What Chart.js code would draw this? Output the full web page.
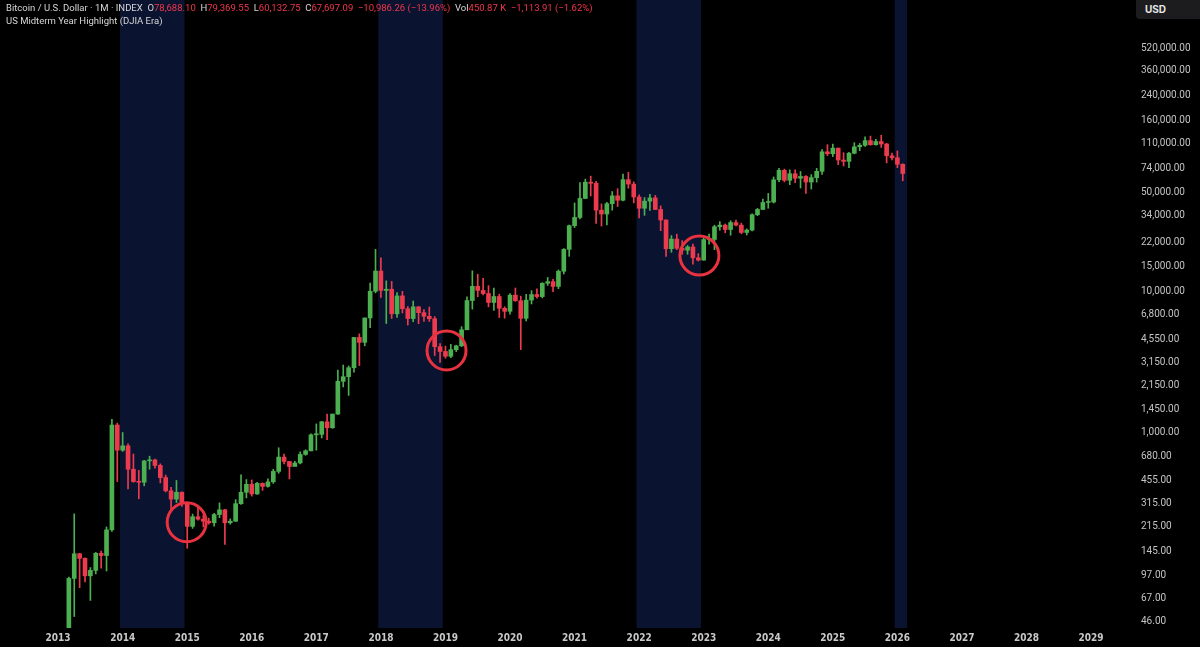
<!DOCTYPE html>
<html>
<head>
<meta charset="utf-8">
<script src="https://cdn.jsdelivr.net/npm/chart.js@4.4.1/dist/chart.umd.min.js"></script>
<style>
  html, body { margin: 0; padding: 0; background: #000; }
  #wrap { position: relative; width: 1200px; height: 647px; background: #000; overflow: hidden; }
  canvas { position: absolute; left: 0; top: 0; }
  .hdr { position: absolute; left: 6px; font-family: Roboto, Inter, sans-serif; font-size: 9.5px; color: #d6d6d6; white-space: nowrap; letter-spacing: 0; }
  .r { color: #f0364a; }
  #usd { position: absolute; left: 1136px; top: 0; width: 64px; height: 19px; background: #1c1c1e; border-bottom-left-radius: 4px;
         font-family: Inter, sans-serif; font-weight: 700; font-size: 10px; color: #e6e6e6; line-height: 19px; padding-left: 9px; box-sizing: border-box; }
</style>
</head>
<body>
<div id="wrap">
  <canvas id="c" width="1200" height="647"></canvas>
  <div class="hdr" style="top:2px">Bitcoin / U.S. Dollar · 1M · INDEX&nbsp; O<span class="r">78,688.10</span>&nbsp; H<span class="r">79,369.55</span>&nbsp; L<span class="r">60,132.75</span>&nbsp; C<span class="r">67,697.09</span>&nbsp; <span class="r">−10,986.26 (−13.96%)</span>&nbsp; Vol<span class="r">450.87 K</span>&nbsp; <span class="r">−1,113.91 (−1.62%)</span></div>
  <div class="hdr" style="top:15px">US Midterm Year Highlight (DJIA Era)</div>
  <div id="usd">USD</div>
</div>
<script>
// Monthly candles, Jan 2013 .. Feb 2026 (month index 0 = Jan 2013)
const opens = [
  13.5,20.4,33.4,93,139,129,97,106,140,135,205,1130,
  750,805,550,450,445,630,640,585,480,387,338,378,
  320,217,254,244,236,230,263,284,230,236,314,378,
  430,368,437,416,448,531,670,624,575,609,700,742,
  963,970,1190,1080,1350,2300,2480,2870,4700,4340,6450,9950,
  13850,10100,10300,6900,9240,7500,6390,7730,7030,6625,6370,4040,
  3740,3460,3850,4100,5320,8570,10800,10100,9600,8300,9150,7550,
  7190,9350,8540,6410,8630,9450,9140,11350,11650,10780,13800,19700,
  28990,33140,45140,58800,57750,37300,35040,41460,47100,43830,61300,57000,
  46200,38480,43190,45540,37700,31800,19900,23300,20050,19430,20500,17170,
  16550,23130,23150,28480,29250,27220,30480,29230,25940,26970,34650,37720,
  42280,42580,61130,71300,60650,67500,62700,64600,58970,63330,70200,96400,
  93430,102400,84350,82550,94200,104600,107100,115700,108200,114000,109500,90400,
  87500,78688.10
];
const highs = [
  20.7,33.4,95,266,140,130,111,142,145,215,1240,1165,
  1000,830,705,540,635,680,650,600,500,410,458,380,
  320,265,300,260,248,268,318,286,245,335,502,465,
  462,445,440,470,550,780,705,625,625,730,755,980,
  1150,1200,1350,1350,2760,3000,2950,4700,4980,6450,11400,19700,
  17200,11800,11700,9750,9950,7780,8500,7770,7400,7700,6600,4250,
  4080,4200,4140,5600,9100,13900,13150,12300,10920,10500,9500,7750,
  9580,10500,9200,9470,10070,10380,11450,12470,12080,14100,19950,29300,
  41950,58350,61800,64900,59600,41300,42400,50500,52900,67000,69000,59100,
  47900,45800,48200,47400,40000,31900,24650,25200,22700,21000,21450,18400,
  23900,25250,29200,31000,29800,31400,31800,30200,27500,35200,38400,44700,
  48970,64000,73800,72800,71900,72000,70000,65600,66500,73600,99800,108300,
  109300,102500,95000,95800,111900,110500,123200,124500,117900,126200,110600,94600,
  97900,79369.55
];
const lows = [
  13.3,19.1,32.5,50,80,88,65,100,110,105,200,450,
  735,400,445,340,420,550,560,440,380,275,320,300,
  152,210,240,215,225,218,250,162,225,235,310,345,
  355,365,390,410,437,515,600,470,590,600,690,740,
  750,915,890,1070,1340,2100,1830,2670,2970,4100,5500,9700,
  9000,5900,6400,6500,7000,5750,6070,5880,6100,6100,3500,3130,
  3350,3380,3730,4050,5330,7450,9100,9400,7730,7300,6500,6430,
  6870,8450,3850,6150,8100,8900,8950,10950,9880,10400,13200,17600,
  28100,32300,45000,47000,30000,28800,29300,37300,39600,43300,53300,42000,
  32900,34300,37200,37700,26700,17600,18800,19600,18200,18200,15500,16300,
  16500,21400,19600,26900,25800,24800,28900,25400,24900,26600,34100,37600,
  38500,41900,59300,59100,56500,58400,53500,49000,52600,58900,66800,90500,
  89200,78200,76600,74400,93400,98200,105300,107300,107300,103500,80500,84400,
  74500,60132.75
];
const closes = [
  20.4,33.4,93,139,129,97,106,140,135,205,1130,750,
  805,550,450,445,630,640,585,480,387,338,378,320,
  217,254,244,236,230,263,284,230,236,314,378,430,
  368,437,416,448,531,670,624,575,609,700,742,963,
  970,1190,1080,1350,2300,2480,2870,4700,4340,6450,9950,13850,
  10100,10300,6900,9240,7500,6390,7730,7030,6625,6370,4040,3740,
  3460,3850,4100,5320,8570,10800,10100,9600,8300,9150,7550,7190,
  9350,8540,6410,8630,9450,9140,11350,11650,10780,13800,19700,28990,
  33140,45140,58800,57750,37300,35040,41460,47100,43830,61300,57000,46200,
  38480,43190,45540,37700,31800,19900,23300,20050,19430,20500,17170,16550,
  23130,23150,28480,29250,27220,30480,29230,25940,26970,34650,37720,42280,
  42580,61130,71300,60650,67500,62700,64600,58970,63330,70200,96400,93430,
  102400,84350,82550,94200,104600,107100,115700,108200,114000,109500,90400,87500,
  78688.10,67697.09
];

// Year ticks (month index of January) and labels
const yearLabels = ["2013","2014","2015","2016","2017","2018","2019","2020","2021","2022","2023","2024","2025","2026","2027","2028","2029"];
const yearMonths = yearLabels.map((_, i) => i * 12);

// Price axis tick values
const priceTicks = [520000,360000,240000,160000,110000,74000,50000,34000,22000,15000,10000,6800,4550,3150,2150,1450,1000,680,455,315,215,145,97,67,46];

// US midterm-year highlight bands (month index start/end)
const bandStarts = [11.5, 59.5, 107.5, 155.5];
const bandEnds   = [23.5, 71.5, 119.5, 157.8];

// Red circle markers (month index, price)
const circleMonths = [23.9, 72.2, 119.2];
const circlePrices = [232, 3800, 17800];

const UP = '#4caf50', DOWN = '#ec3b4f';
const idx = closes.map((_, i) => i);
const colors = idx.map(i => closes[i] >= opens[i] ? UP : DOWN);

const wickData = idx.map(i => ({ x: i, y: [lows[i], highs[i]] }));
const bodyData = idx.map(i => ({ x: i, y: [Math.min(opens[i], closes[i]), Math.max(opens[i], closes[i])] }));
const circleData = circleMonths.map((m, i) => ({ x: m, y: circlePrices[i] }));

const PX_PER_MONTH = 5.38, X0 = 58.1, AREA_RIGHT = 1128;

function noPad(scale) {
  scale.paddingLeft = 0; scale.paddingRight = 0; scale.paddingTop = 0; scale.paddingBottom = 0;
}

const bandPlugin = {
  id: 'bands',
  beforeDatasetsDraw(chart) {
    const { ctx, chartArea, scales } = chart;
    ctx.save();
    ctx.fillStyle = '#0a1330';
    bandStarts.forEach((s, i) => {
      const x1 = scales.x.getPixelForValue(s);
      const x2 = scales.x.getPixelForValue(bandEnds[i]);
      ctx.fillRect(x1, chartArea.top, x2 - x1, chartArea.bottom - chartArea.top);
    });
    ctx.restore();
  }
};

Chart.defaults.font.family = 'Inter, "Open Sans", sans-serif';

new Chart(document.getElementById('c'), {
  type: 'bar',
  data: {
    datasets: [
      { type: 'scatter', data: circleData, pointRadius: 19.5, pointHoverRadius: 19.5, pointStyle: 'circle',
        borderColor: '#e8323f', borderWidth: 3, backgroundColor: 'rgba(0,0,0,0)', order: -1 },
      { data: bodyData, backgroundColor: colors, borderWidth: 0, barThickness: 4, grouped: false, minBarLength: 1, order: 0 },
      { data: wickData, backgroundColor: colors, borderWidth: 0, barThickness: 1, grouped: false, order: 1 }
    ]
  },
  options: {
    responsive: false,
    devicePixelRatio: 1,
    animation: false,
    events: [],
    layout: { padding: 0, autoPadding: false },
    plugins: { legend: { display: false }, tooltip: { enabled: false } },
    scales: {
      x: {
        type: 'linear',
        offset: false,
        min: -X0 / PX_PER_MONTH,
        max: (AREA_RIGHT - X0) / PX_PER_MONTH,
        grid: { display: false, drawTicks: false },
        border: { display: false },
        afterBuildTicks(scale) { scale.ticks = yearMonths.map(v => ({ value: v })); },
        afterFit(scale) { scale.height = 19; noPad(scale); },
        ticks: {
          autoSkip: false, maxRotation: 0, padding: 4,
          color: '#c9c9c9',
          font: { family: '"DejaVu Sans Condensed", "DejaVu Sans", sans-serif', size: 10, weight: 'bold' },
          callback(value) { const k = yearMonths.indexOf(value); return k >= 0 ? yearLabels[k] : ''; }
        }
      },
      y: {
        type: 'logarithmic',
        position: 'right',
        min: 41.5,
        max: 1141000,
        grid: { display: false, drawTicks: false },
        border: { display: false },
        afterBuildTicks(scale) { scale.ticks = priceTicks.map(v => ({ value: v })); },
        afterFit(scale) { scale.width = 1200 - AREA_RIGHT; noPad(scale); },
        ticks: {
          autoSkip: false, padding: 13,
          color: '#c4c4c4',
          font: { family: 'Roboto, Inter, sans-serif', size: 10 },
          callback(value) { return Number(value).toLocaleString('en-US', { minimumFractionDigits: 2, maximumFractionDigits: 2 }); }
        }
      }
    }
  },
  plugins: [bandPlugin]
});
</script>
</body>
</html>
